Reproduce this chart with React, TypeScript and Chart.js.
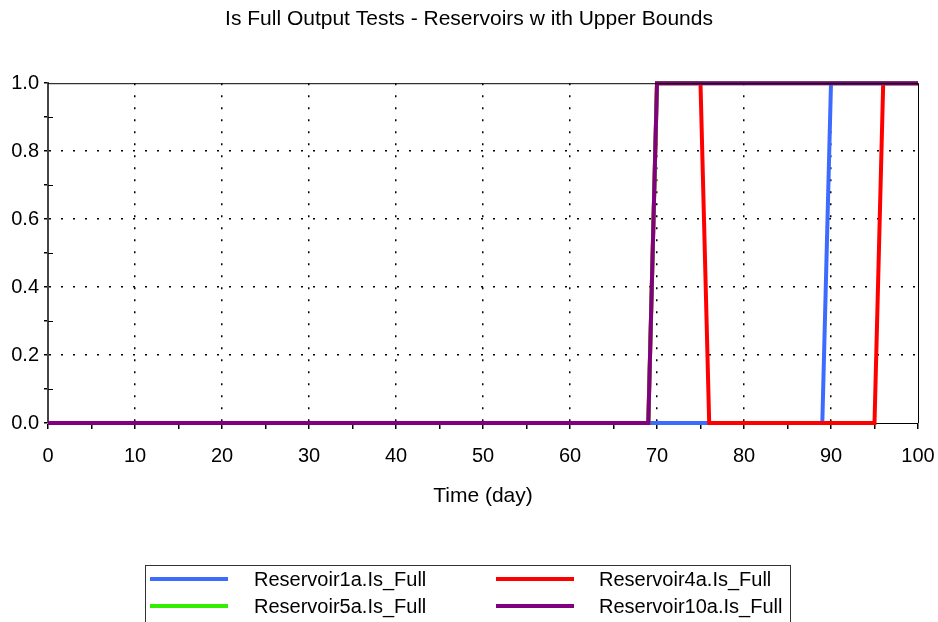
import React, { useEffect, useRef } from "react";
import { Chart, registerables } from "chart.js";

Chart.register(...registerables);

const chartTitle = "Is Full Output Tests - Reservoirs w ith Upper Bounds";
const xAxisTitle = "Time (day)";

// time (day) of each breakpoint
const times = [0, 69, 70, 75, 76, 89, 90, 95, 96, 100];
const reservoir1a = [0, 0, 0, 0, 0, 0, 1, 1, 1, 1];
const reservoir4a = [0, 0, 1, 1, 0, 0, 0, 0, 1, 1];
const reservoir5a = [0, 0, 1, 1, 1, 1, 1, 1, 1, 1];
const reservoir10a = [0, 0, 1, 1, 1, 1, 1, 1, 1, 1];

const seriesNames = [
  "Reservoir1a.Is_Full",
  "Reservoir4a.Is_Full",
  "Reservoir5a.Is_Full",
  "Reservoir10a.Is_Full",
];
const seriesValues = [reservoir1a, reservoir4a, reservoir5a, reservoir10a];
const seriesColors = ["#3d6bff", "#ff0000", "#33ee00", "#800080"];
// drawing order: higher drawn first
const seriesOrder = [4, 3, 2, 1];

const xMin = 0;
const xMax = 100;
const xStep = 5;
const xLabelStep = 10;
const yMin = 0;
const yMax = 1;
const yStep = 0.1;

const FONT = "'Liberation Sans', Arial, sans-serif";

const framePlugin = {
  id: "frame",
  afterDatasetsDraw(chart: any) {
    const { ctx, chartArea, scales } = chart;
    const { left, right, top, bottom } = chartArea;
    ctx.save();
    ctx.strokeStyle = "#000";
    ctx.lineWidth = 1;
    ctx.beginPath();
    ctx.moveTo(left, top + 0.5);
    ctx.lineTo(right, top + 0.5);
    ctx.moveTo(right + 0.5, top);
    ctx.lineTo(right + 0.5, bottom);
    ctx.stroke();
    // inner parts of minor ticks
    const ys = scales.y;
    ys.ticks.forEach((t: any) => {
      const k = Math.round(t.value * 10);
      if (k % 2 === 1) {
        const py = Math.round(ys.getPixelForValue(t.value)) + 0.5;
        ctx.beginPath();
        ctx.moveTo(left, py);
        ctx.lineTo(left + 5, py);
        ctx.stroke();
      }
    });
    ctx.restore();
  },
};

function LegendItem({ name, color, lineX, textX, y }: any) {
  return (
    <>
      <div
        style={{
          position: "absolute",
          left: lineX,
          top: y - 2,
          width: 78,
          height: 4,
          background: color,
        }}
      />
      <div
        style={{
          position: "absolute",
          left: textX,
          top: y - 12,
          height: 24,
          lineHeight: "24px",
          fontFamily: FONT,
          fontSize: 20,
          color: "#000",
          whiteSpace: "nowrap",
        }}
      >
        {name}
      </div>
    </>
  );
}

export default function App() {
  const canvasRef = useRef<HTMLCanvasElement | null>(null);

  useEffect(() => {
    if (!canvasRef.current) return;
    const datasets = seriesNames.map((name, i) => ({
      label: name,
      data: times.map((t, j) => ({ x: t, y: seriesValues[i][j] })),
      borderColor: seriesColors[i],
      backgroundColor: seriesColors[i],
      borderWidth: 4,
      pointRadius: 0,
      tension: 0,
      fill: false,
      clip: false as any,
      order: seriesOrder[i],
    }));

    const chart = new Chart(canvasRef.current, {
      type: "line",
      data: { datasets },
      options: {
        responsive: false,
        animation: false,
        devicePixelRatio: 1,
        layout: { padding: { left: 0, right: 0, top: 0, bottom: 110 } },
        plugins: {
          legend: { display: false },
          tooltip: { enabled: false },
          title: {
            display: true,
            text: chartTitle,
            color: "#000",
            font: { family: FONT, size: 21, weight: "normal" },
            padding: { top: 7, bottom: 51 },
          },
        },
        scales: {
          x: {
            type: "linear",
            min: xMin,
            max: xMax,
            afterFit: (s: any) => {
              s.height = 89;
              s.paddingRight = 20;
              s.paddingLeft = 0;
            },
            ticks: {
              stepSize: xStep,
              autoSkip: false,
              maxRotation: 0,
              color: "#000",
              padding: 15,
              font: { family: FONT, size: 20 },
              callback: (v: any) => (Number(v) % xLabelStep === 0 ? String(v) : ""),
            },
            grid: {
              drawTicks: true,
              tickLength: 6,
              tickColor: "#000",
              lineWidth: 1.5,
              color: (c: any) => {
                const v = c.tick ? c.tick.value : NaN;
                return v % xLabelStep === 0 && v > xMin && v < xMax ? "#000" : "rgba(0,0,0,0)";
              },
            },
            border: { display: true, color: "#000", width: 1, dash: [2, 10] },
            title: {
              display: true,
              text: xAxisTitle,
              color: "#000",
              font: { family: FONT, size: 21 },
              padding: { top: 0, bottom: 3.5 },
            },
          },
          y: {
            type: "linear",
            min: yMin,
            max: yMax,
            afterFit: (s: any) => {
              s.width = 48;
            },
            ticks: {
              stepSize: yStep,
              autoSkip: false,
              color: "#000",
              padding: 5,
              font: { family: FONT, size: 20 },
              callback: (v: any) =>
                Math.round(Number(v) * 10) % 2 === 0 ? Number(v).toFixed(1) : "",
            },
            grid: {
              drawTicks: true,
              tickLength: 4,
              tickColor: "#000",
              lineWidth: 1.5,
              color: (c: any) => {
                const v = c.tick ? c.tick.value : NaN;
                const k = Math.round(v * 10);
                return k % 2 === 0 && k > 0 && k < 10 ? "#000" : "rgba(0,0,0,0)";
              },
            },
            border: { display: true, color: "#444", width: 2, dash: [2, 10] },
          },
        },
      },
      plugins: [framePlugin],
    });
    return () => chart.destroy();
  }, []);

  return (
    <div
      style={{
        position: "fixed",
        left: 0,
        top: 0,
        width: 938,
        height: 622,
        background: "#fff",
        overflow: "hidden",
      }}
    >
      <canvas ref={canvasRef} width={938} height={622} style={{ display: "block" }} />
      <div
        style={{
          position: "absolute",
          left: 145,
          top: 565,
          width: 646,
          height: 80,
          border: "1px solid #333",
          boxSizing: "border-box",
        }}
      />
      <LegendItem name={seriesNames[0]} color={seriesColors[0]} lineX={150} textX={254} y={579} />
      <LegendItem name={seriesNames[1]} color={seriesColors[1]} lineX={496} textX={599} y={579} />
      <LegendItem name={seriesNames[2]} color={seriesColors[2]} lineX={150} textX={254} y={606} />
      <LegendItem name={seriesNames[3]} color={seriesColors[3]} lineX={496} textX={599} y={606} />
    </div>
  );
}
